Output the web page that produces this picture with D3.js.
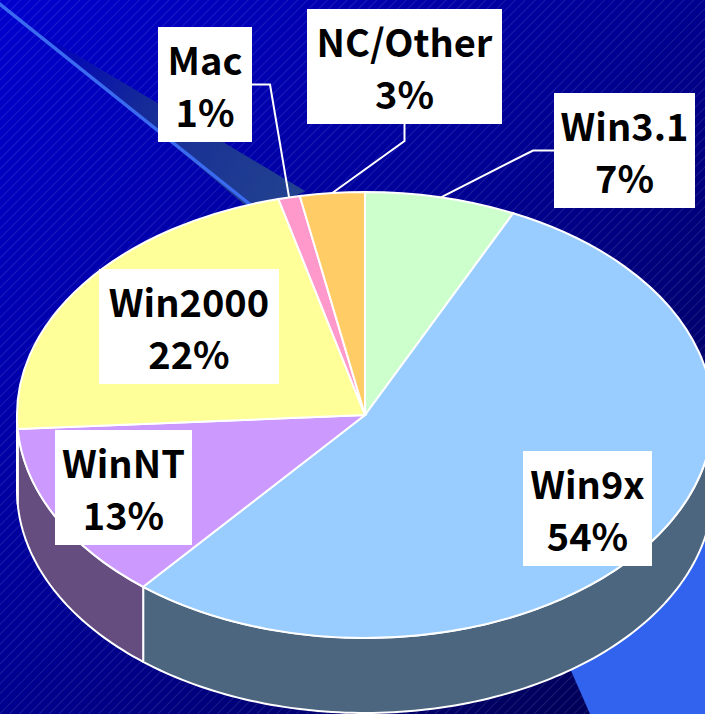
<!DOCTYPE html>
<html lang="en">
<head>
<meta charset="UTF-8">
<title>OS share</title>
<script src="https://cdn.jsdelivr.net/npm/d3@7"></script>
<style>
  html, body { margin: 0; padding: 0; background: #000080; overflow: hidden; }
  svg { display: block; }
  .lbl text {
    font-family: "Noto Sans CJK JP", "Noto Sans", sans-serif;
    font-weight: 700;
    font-size: 38px;
    fill: #000;
  }
</style>
</head>
<body>
<div id="chart"></div>
<script>
// data
const categories = ["Win3.1", "Win9x", "WinNT", "Win2000", "Mac", "NC/Other"];
const shares = [7, 54, 13, 22, 1, 3];
const sliceColors = ["#ccffcc", "#99ccff", "#cc99ff", "#ffff99", "#ff99cc", "#ffcc66"];

// layout
const width = 705, height = 714;
const cx = 365, cy = 415, rx = 348, ry = 223, depth = 75;
const boxH = 115;
const labelLayout = {
    "Win3.1":   { x: 554, y: 93,  w: 141, lead: "left",   elbow: 21 },
    "Win9x":    { x: 523, y: 451, w: 129 },
    "WinNT":    { x: 55,  y: 430, w: 137 },
    "Win2000":  { x: 99,  y: 269, w: 180 },
    "Mac":      { x: 158, y: 27,  w: 94,  lead: "right",  elbow: 18 },
    "NC/Other": { x: 307, y: 9,   w: 195, lead: "bottom", elbow: 17 }
};

const color = d3.scaleOrdinal().domain(categories).range(sliceColors);
const sideColor = c => { const r = d3.rgb(c); return d3.rgb(r.r * 0.5, r.g * 0.5, r.b * 0.5); };

const data = categories.map((name, i) => ({ name, value: shares[i] }));
const pie = d3.pie().sort(null).value(d => d.value);
const arcs = pie(data);

const svg = d3.select("#chart").append("svg")
    .attr("width", width)
    .attr("height", height);

const defs = svg.append("defs");

const bg = defs.append("linearGradient").attr("id", "bg")
    .attr("x1", 0).attr("y1", 0).attr("x2", 1).attr("y2", 1);
bg.append("stop").attr("offset", 0).attr("stop-color", "#0000cf");
bg.append("stop").attr("offset", 1).attr("stop-color", "#00004e");

const stripes = defs.append("pattern").attr("id", "stripes")
    .attr("patternUnits", "userSpaceOnUse")
    .attr("width", 7).attr("height", 7)
    .attr("patternTransform", "rotate(45)");
stripes.append("line")
    .attr("x1", 0).attr("y1", 0).attr("x2", 0).attr("y2", 7)
    .attr("stroke", "#ffffff").attr("stroke-opacity", 0.22).attr("stroke-width", 1);

const beam = defs.append("linearGradient").attr("id", "beam")
    .attr("gradientUnits", "userSpaceOnUse")
    .attr("x1", 60).attr("y1", 50).attr("x2", 300).attr("y2", 195);
beam.append("stop").attr("offset", 0).attr("stop-color", "#0306b8");
beam.append("stop").attr("offset", 0.35).attr("stop-color", "#152a98");
beam.append("stop").attr("offset", 1).attr("stop-color", "#22428f");

// background
svg.append("rect").attr("width", width).attr("height", height).attr("fill", "url(#bg)");
svg.append("rect").attr("width", width).attr("height", height).attr("fill", "url(#stripes)");

// decorative beams
svg.append("path")
    .attr("d", d3.line()([[40, 33], [305, 191], [258, 215], [245, 205]]) + "Z")
    .attr("fill", "url(#beam)");
svg.append("line")
    .attr("x1", -4).attr("y1", 1).attr("x2", 252).attr("y2", 206)
    .attr("stroke", "#3a6af0").attr("stroke-width", 3.5);
svg.append("path")
    .attr("d", d3.line()([[540, 600], [590, 714], [705, 714], [705, 430]]) + "Z")
    .attr("fill", "#3163ef");

// pie geometry
const rim = (t, dy) => [cx + rx * Math.sin(t), cy - ry * Math.cos(t) + dy];

function sidePath(a, b) {
    const n = Math.max(2, Math.ceil((b - a) / 0.02));
    const top = d3.range(n + 1).map(i => rim(a + (b - a) * i / n, 0));
    const bot = d3.range(n + 1).map(i => rim(b - (b - a) * i / n, depth));
    return d3.line()(top.concat(bot)) + "Z";
}

// side walls (front half only)
svg.append("g")
    .selectAll("path")
    .data(arcs.filter(d => Math.min(d.endAngle, 1.5 * Math.PI) > Math.max(d.startAngle, 0.5 * Math.PI)))
    .join("path")
    .attr("d", d => sidePath(Math.max(d.startAngle, 0.5 * Math.PI), Math.min(d.endAngle, 1.5 * Math.PI)))
    .attr("fill", d => sideColor(color(d.data.name)))
    .attr("stroke", "#ffffff")
    .attr("stroke-width", 2)
    .attr("stroke-linejoin", "round");

// top faces
const arc = d3.arc().innerRadius(0).outerRadius(rx);
svg.append("g")
    .attr("transform", `translate(${cx},${cy}) scale(1,${ry / rx})`)
    .selectAll("path")
    .data(arcs)
    .join("path")
    .attr("d", arc)
    .attr("fill", d => color(d.data.name))
    .attr("stroke", "#ffffff")
    .attr("stroke-width", 2)
    .attr("vector-effect", "non-scaling-stroke");

// leader lines
const leaders = arcs.filter(d => labelLayout[d.data.name].lead);
svg.append("g")
    .selectAll("path")
    .data(leaders)
    .join("path")
    .attr("d", d => {
        const L = labelLayout[d.data.name];
        const anchor = rim((d.startAngle + d.endAngle) / 2, 0);
        let start, elbow;
        if (L.lead === "left") {
            start = [L.x, L.y + boxH / 2]; elbow = [L.x - L.elbow, L.y + boxH / 2];
        } else if (L.lead === "right") {
            start = [L.x + L.w, L.y + boxH / 2]; elbow = [L.x + L.w + L.elbow, L.y + boxH / 2];
        } else {
            start = [L.x + L.w / 2, L.y + boxH]; elbow = [L.x + L.w / 2, L.y + boxH + L.elbow];
        }
        return d3.line()([start, elbow, anchor]);
    })
    .attr("fill", "none")
    .attr("stroke", "#ffffff")
    .attr("stroke-width", 2);

// labels
const lbl = svg.append("g").attr("class", "lbl")
    .selectAll("g")
    .data(arcs)
    .join("g")
    .attr("transform", d => `translate(${labelLayout[d.data.name].x},${labelLayout[d.data.name].y})`);

lbl.append("rect")
    .attr("width", d => labelLayout[d.data.name].w)
    .attr("height", boxH)
    .attr("fill", "#ffffff");

lbl.append("text")
    .attr("x", d => labelLayout[d.data.name].w / 2)
    .attr("y", 48)
    .attr("text-anchor", "middle")
    .text(d => d.data.name);

lbl.append("text")
    .attr("x", d => labelLayout[d.data.name].w / 2)
    .attr("y", 100)
    .attr("text-anchor", "middle")
    .text(d => `${d.data.value}%`);
</script>
</body>
</html>
